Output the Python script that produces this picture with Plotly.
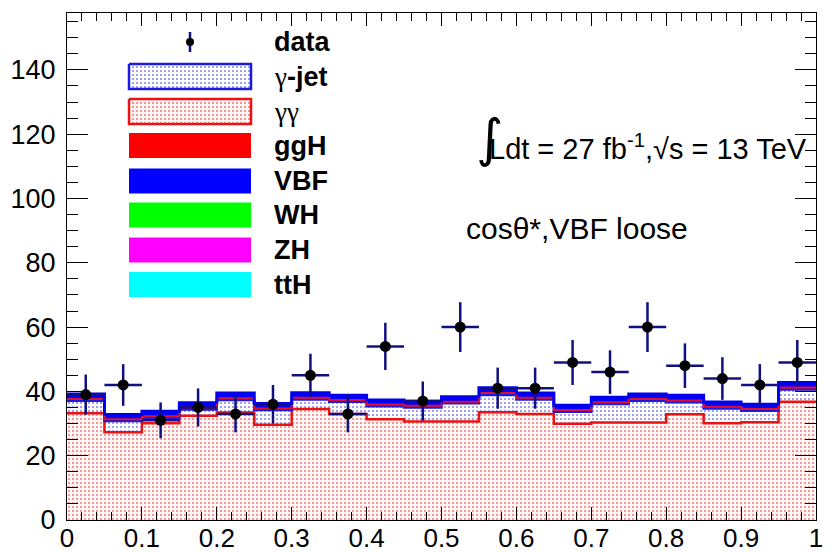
import numpy as np
import plotly.graph_objects as go

# ---------------- data ----------------
bin_centers = [0.025, 0.075, 0.125, 0.175, 0.225, 0.275, 0.325, 0.375, 0.425, 0.475,
               0.525, 0.575, 0.625, 0.675, 0.725, 0.775, 0.825, 0.875, 0.925, 0.975]
bin_width = 0.05
data = [39, 42, 31, 35, 33, 36, 45, 33, 54, 37, 60, 41, 41, 49, 46, 60, 48, 44, 42, 49]
gamgam = [33.2, 27.3, 30.1, 32.4, 33.4, 29.6, 34.5, 33.0, 31.3, 30.6,
          30.6, 33.5, 33.0, 29.9, 30.3, 30.3, 32.9, 30.1, 30.4, 36.8]
gamjet = [3.9, 3.5, 1.7, 2.0, 3.9, 4.6, 3.0, 3.8, 4.1, 4.4,
          5.7, 5.4, 4.5, 3.8, 5.8, 6.8, 3.7, 4.6, 3.6, 3.8]
ggH = [0.5, 0.5, 0.5, 0.5, 0.6, 0.5, 0.5, 0.5, 0.5, 0.5,
       0.5, 0.6, 0.5, 0.5, 0.5, 0.5, 0.6, 0.5, 0.5, 0.6]
VBF = [1.6, 1.5, 1.5, 1.6, 1.6, 1.5, 1.6, 1.5, 1.4, 1.4,
       1.5, 1.6, 1.5, 1.5, 1.6, 1.6, 1.6, 1.5, 1.5, 1.6]
WH = [0.03, 0.03, 0.02, 0.03, 0.03, 0.02, 0.03, 0.03, 0.02, 0.03,
      0.03, 0.03, 0.02, 0.03, 0.03, 0.03, 0.02, 0.03, 0.03, 0.03]
ZH = [0.02, 0.02, 0.02, 0.02, 0.02, 0.02, 0.02, 0.02, 0.02, 0.02,
      0.02, 0.02, 0.02, 0.02, 0.02, 0.02, 0.02, 0.02, 0.02, 0.02]
ttH = [0.01, 0.01, 0.01, 0.01, 0.01, 0.01, 0.01, 0.01, 0.01, 0.01,
       0.01, 0.01, 0.01, 0.01, 0.01, 0.01, 0.01, 0.01, 0.01, 0.01]

legend_labels = ["data", "γ-jet", "γγ", "ggH", "VBF", "WH", "ZH", "ttH"]

# ---------------- build ----------------
centers = np.array(bin_centers)
edges = np.append(centers - bin_width / 2, centers[-1] + bin_width / 2)

RED_PAT = dict(shape=".", fgcolor="#e00000", bgcolor="#fff6f6", size=4, solidity=0.2)
BLUE_PAT = dict(shape=".", fgcolor="#1010d0", bgcolor="white", size=4, solidity=0.22)

stack = [
    ("γγ", gamgam, dict(color="white", pattern=RED_PAT), "#ee1111", 2.5),
    ("γ-jet", gamjet, dict(color="white", pattern=BLUE_PAT), "#1a1ae0", 2.5),
    ("ggH", ggH, dict(color="#ff0000"), "#dd1030", 2),
    ("VBF", VBF, dict(color="#0000ff"), "#0000ee", 3),
    ("WH", WH, dict(color="#00ff00"), "#00ff00", 0),
    ("ZH", ZH, dict(color="#ff00ff"), "#ff00ff", 0),
    ("ttH", ttH, dict(color="#00ffff"), "#00ffff", 0),
]

fig = go.Figure()
base = np.zeros(len(centers))
tops = []
for name, vals, marker, lc, lw in stack:
    v = np.array(vals, dtype=float)
    fig.add_trace(go.Bar(x=centers, y=v, base=base, width=bin_width, marker=marker,
                         marker_line_width=0, showlegend=False, name=name, hoverinfo="skip"))
    base = base + v
    tops.append((base.copy(), lc, lw))

for top, lc, lw in tops:
    if lw > 0:
        fig.add_trace(go.Scatter(x=edges, y=np.append(top, top[-1]), mode="lines",
                                 line=dict(shape="hv", color=lc, width=lw),
                                 showlegend=False, hoverinfo="skip"))

d = np.array(data, dtype=float)
fig.add_trace(go.Scatter(
    x=centers, y=d, mode="markers",
    marker=dict(color="black", size=11),
    error_y=dict(type="data", array=np.sqrt(d), color="#101080", thickness=2.5, width=0),
    error_x=dict(type="constant", value=bin_width / 2, color="#101080", thickness=2.5, width=0),
    showlegend=False))

# ---------------- custom legend (overlay axis in window-pixel coords) ----------------
box_x0, box_x1 = 129, 251
rows_y = [42, 76.5, 111.5, 145.5, 181, 215, 250, 284.5]
box_h = 25
leg_styles = [
    None,
    dict(fillcolor="white", fillpattern=BLUE_PAT, line=dict(color="#1a1ae0", width=2.5)),
    dict(fillcolor="white", fillpattern=RED_PAT, line=dict(color="#ee1111", width=2.5)),
    dict(fillcolor="#ff0000", line=dict(width=0)),
    dict(fillcolor="#0000ff", line=dict(width=0)),
    dict(fillcolor="#00ff00", line=dict(width=0)),
    dict(fillcolor="#ff00ff", line=dict(width=0)),
    dict(fillcolor="#00ffff", line=dict(width=0)),
]
for yc, st in zip(rows_y[1:], leg_styles[1:]):
    y0, y1 = yc - box_h / 2, yc + box_h / 2
    fig.add_trace(go.Scatter(x=[box_x0, box_x1, box_x1, box_x0, box_x0], y=[y0, y0, y1, y1, y0],
                             mode="lines", fill="toself", xaxis="x2", yaxis="y2",
                             showlegend=False, hoverinfo="skip", **st))
# data legend marker
fig.add_trace(go.Scatter(x=[190], y=[rows_y[0]], mode="markers", xaxis="x2", yaxis="y2",
                         marker=dict(color="black", size=8),
                         error_y=dict(type="constant", value=10, color="#101080", thickness=2.5, width=0),
                         showlegend=False, hoverinfo="skip"))

annotations = []
for lab, yc in zip(legend_labels, rows_y):
    if lab == "γγ":
        txt = "<span style='font-family:Liberation Serif'>γγ</span>"
    elif lab == "γ-jet":
        txt = "<span style='font-family:Liberation Serif'>γ</span><b>-jet</b>"
    else:
        txt = "<b>" + lab + "</b>"
    annotations.append(dict(x=272, y=yc, xref="x2", yref="y2", text=txt, showarrow=False,
                            xanchor="left", yanchor="middle",
                            font=dict(family="Liberation Sans", size=27, color="black")))

annotations.append(dict(x=474, y=138, xref="x2", yref="y2", text="∫", showarrow=False,
                        xanchor="left", yanchor="middle",
                        font=dict(family="DejaVu Sans", size=52, color="black")))
annotations.append(dict(x=487, y=147, xref="x2", yref="y2",
                        text="Ldt = 27 fb<sup>-1</sup>,√s = 13 TeV", showarrow=False,
                        xanchor="left", yanchor="middle",
                        font=dict(family="Liberation Sans", size=29, color="black")))
annotations.append(dict(x=464, y=228, xref="x2", yref="y2",
                        text="cosθ*,VBF loose", showarrow=False,
                        xanchor="left", yanchor="middle",
                        font=dict(family="Liberation Sans", size=30, color="black")))

# page body has an 8px default offset -> plot area at window x 67..816, y 13..520
fig.update_layout(
    width=823, height=545,
    margin=dict(l=59, r=15, t=5, b=33, autoexpand=False),
    paper_bgcolor="white", plot_bgcolor="white",
    barmode="overlay", bargap=0,
    showlegend=False,
    annotations=annotations,
    xaxis=dict(range=[0, 1], dtick=0.1, tick0=0, showgrid=False, zeroline=False,
               automargin=False,
               showline=True, linecolor="black", linewidth=1, mirror="allticks",
               ticks="inside", ticklen=13, tickwidth=1, tickcolor="black",
               minor=dict(ticks="inside", ticklen=8, dtick=0.02, tickcolor="black", showgrid=False),
               tickfont=dict(family="Liberation Sans", size=26, color="black"),
               ticklabelstandoff=-5),
    yaxis=dict(range=[0, 157.7], dtick=20, tick0=0, showgrid=False, zeroline=False,
               automargin=False,
               showline=True, linecolor="black", linewidth=1, mirror="allticks",
               ticks="inside", ticklen=21, tickwidth=1, tickcolor="black",
               minor=dict(ticks="inside", ticklen=11, dtick=5, tickcolor="black", showgrid=False),
               tickfont=dict(family="Liberation Sans", size=27, color="black"),
               ticklabelstandoff=5),
    xaxis2=dict(overlaying="x", range=[67, 816], visible=False, showgrid=False, zeroline=False),
    yaxis2=dict(overlaying="y", range=[520, 13], visible=False, showgrid=False, zeroline=False),
)

fig.write_html("out.html")
